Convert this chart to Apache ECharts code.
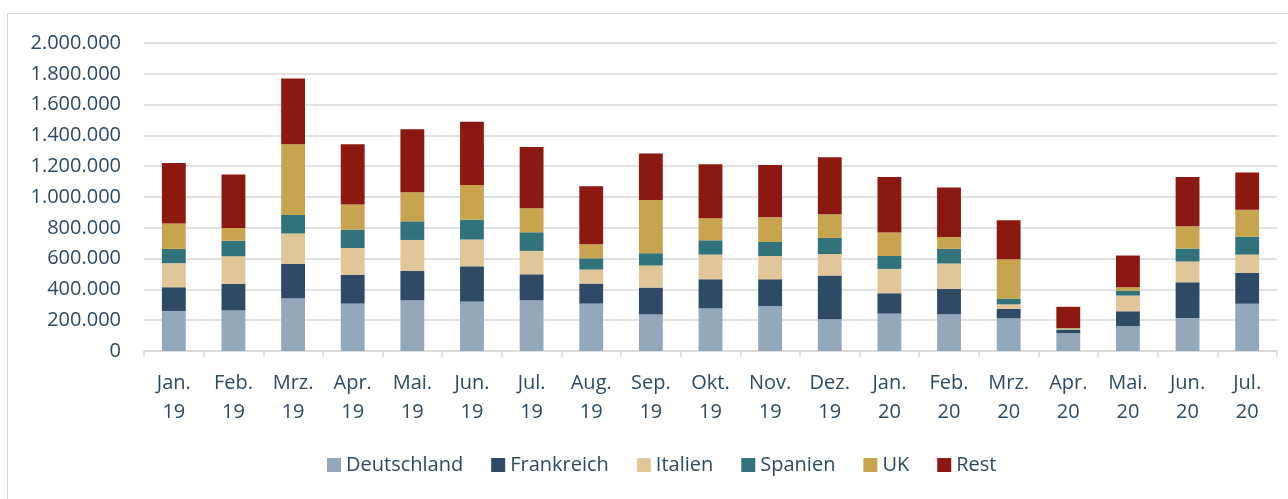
<!DOCTYPE html>
<html><head><meta charset="utf-8">
<script src="https://cdn.jsdelivr.net/npm/echarts@6/dist/echarts.min.js"></script>
<style>html,body{margin:0;padding:0;background:#fff}#c{width:1288px;height:499px}</style>
</head><body><div id="c"></div>
<script>
const categories = ['Jan.\n19','Feb.\n19','Mrz.\n19','Apr.\n19','Mai.\n19','Jun.\n19','Jul.\n19','Aug.\n19','Sep.\n19','Okt.\n19','Nov.\n19','Dez.\n19','Jan.\n20','Feb.\n20','Mrz.\n20','Apr.\n20','Mai.\n20','Jun.\n20','Jul.\n20'];
const deutschland = [260000,264000,342000,308000,329000,321000,329000,308000,238000,277000,292000,206000,243000,238000,212000,115000,162000,214000,307000];
const frankreich  = [154000,171000,223000,186000,191000,229000,169000,130000,174000,189000,174000,284000,132000,165000,61000,22000,96000,232000,200000];
const italien     = [156000,180000,198000,175000,201000,174000,152000,91000,143000,160000,151000,140000,158000,165000,30000,4000,102000,135000,119000];
const spanien     = [93000,100000,120000,120000,121000,129000,121000,73000,80000,93000,91000,104000,84000,95000,37000,4000,32000,84000,117000];
const uk          = [165000,84000,460000,162000,189000,225000,156000,91000,346000,143000,160000,154000,152000,78000,256000,4000,22000,145000,175000];
const rest        = [393000,347000,426000,392000,409000,410000,398000,377000,301000,351000,339000,370000,361000,320000,253000,138000,206000,320000,241000];
const yTicks = [0,200000,400000,600000,800000,1000000,1200000,1400000,1600000,1800000,2000000];

const seriesDefs = [
  ['Deutschland', deutschland, '#94a8bc'],
  ['Frankreich', frankreich, '#2e4a66'],
  ['Italien', italien, '#e0c698'],
  ['Spanien', spanien, '#32727b'],
  ['UK', uk, '#c9a44f'],
  ['Rest', rest, '#8b1912']
];
const fmt = v => String(v).replace(/\B(?=(\d{3})+(?!\d))/g, '.');
const txt = '#2e4a62';
const chart = echarts.init(document.getElementById('c'));
chart.setOption({
  animation: false,
  graphic: [{type:'rect', shape:{x:7.5,y:13.5,width:1290,height:500}, style:{fill:'none', stroke:'#d9d9d9', lineWidth:1}}],
  grid: {left:144, right:11, top:43, bottom:148},
  legend: {
    top: 455, left: 327, itemWidth: 14, itemHeight: 14, itemGap: 28, padding: 0,
    icon: 'rect',
    textStyle: {fontFamily:'Open Sans', fontSize:20, color:txt},
    data: seriesDefs.map(s => s[0])
  },
  xAxis: {
    type:'category', data: categories,
    axisLine:{lineStyle:{color:'#d9d9d9', width:1.5}},
    axisTick:{show:true, length:6, lineStyle:{color:'#d9d9d9', width:1.5}},
    axisLabel:{fontFamily:'Open Sans', fontSize:20, color:txt, lineHeight:29, margin:18, interval:0}
  },
  yAxis: {
    type:'value', min:0, max:2000000, interval:200000,
    axisLine:{show:false}, axisTick:{show:false},
    splitLine:{lineStyle:{color:'#d9d9d9', width:1.5}},
    axisLabel:{fontFamily:'Open Sans', fontSize:20, color:txt, margin:23, formatter: v => fmt(v)}
  },
  series: seriesDefs.map(s => ({
    name: s[0], type:'bar', stack:'total', data: s[1], barWidth:'40%',
    itemStyle:{color: s[2]}
  }))
});
</script></body></html>
